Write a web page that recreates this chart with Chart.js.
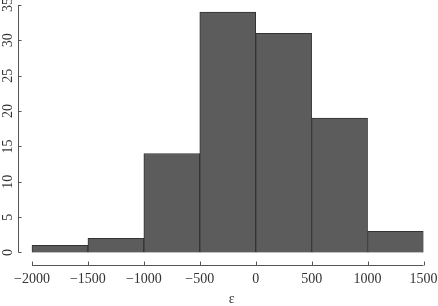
<!DOCTYPE html>
<html><head><meta charset="utf-8">
<script src="https://cdn.jsdelivr.net/npm/chart.js@4/dist/chart.umd.min.js"></script>
<style>html,body{margin:0;padding:0;background:#fff}#wrap{width:438px;height:306px;position:relative}</style>
</head><body><div id="wrap"><canvas id="c"></canvas></div>
<script>
const binEdges = [-2000, -1500, -1000, -500, 0, 500, 1000, 1500];
const counts = [1, 2, 14, 34, 31, 19, 3];
const xTicks = [-2000, -1500, -1000, -500, 0, 500, 1000, 1500];
const yTicks = [0, 5, 10, 15, 20, 25, 30, 35];
const xLabel = 'ε';

const points = counts.map((c, i) => ({ x: (binEdges[i] + binEdges[i + 1]) / 2, y: c }));
const FONT = "'Liberation Serif', 'DejaVu Serif', serif";
const fmt = v => (v < 0 ? '\u2212' + Math.abs(v) : String(v));

const rAxes = {
  id: 'rAxes',
  afterDraw(chart) {
    const { ctx, chartArea, scales: { x, y } } = chart;
    ctx.save();
    ctx.strokeStyle = '#555';
    ctx.lineWidth = 1;
    const ax = Math.round(chartArea.bottom) - 0.5;
    const ay = Math.round(chartArea.left) - 0.5;
    ctx.beginPath();
    ctx.moveTo(x.getPixelForValue(xTicks[0]), ax);
    ctx.lineTo(x.getPixelForValue(xTicks[xTicks.length - 1]), ax);
    xTicks.forEach(v => { const px = Math.round(x.getPixelForValue(v)) + 0.5; ctx.moveTo(px, ax); ctx.lineTo(px, ax - 4); });
    ctx.moveTo(ay, y.getPixelForValue(yTicks[0]));
    ctx.lineTo(ay, y.getPixelForValue(yTicks[yTicks.length - 1]));
    yTicks.forEach(v => { const py = Math.round(y.getPixelForValue(v)) + 0.5; ctx.moveTo(ay, py); ctx.lineTo(ay + 3, py); });
    ctx.stroke();
    ctx.fillStyle = '#333';
    ctx.font = '14px ' + FONT;
    ctx.textAlign = 'center';
    ctx.textBaseline = 'middle';
    const cx = (x.getPixelForValue(xTicks[0]) + x.getPixelForValue(xTicks[xTicks.length - 1])) / 2 + 4;
    ctx.fillText(xLabel, cx, 299);
    ctx.restore();
  }
};

new Chart(document.getElementById('c'), {
  type: 'bar',
  data: {
    datasets: [{
      data: points,
      backgroundColor: '#5c5c5c',
      borderColor: '#333333',
      borderWidth: 1,
      borderSkipped: 'start',
      barPercentage: 1,
      categoryPercentage: 1
    }]
  },
  options: {
    responsive: true,
    maintainAspectRatio: false,
    animation: false,
    events: [],
    layout: { padding: { top: 5, right: 14.5, left: 0, bottom: 0 } },
    plugins: { legend: { display: false }, tooltip: { enabled: false } },
    scales: {
      x: {
        type: 'linear',
        offset: false,
        min: -2116,
        max: 1500,
        grid: { display: false, drawTicks: false, offset: false },
        border: { display: false },
        afterBuildTicks: s => { s.ticks = xTicks.map(v => ({ value: v })); },
        afterFit: s => { s.height = 40; s.paddingLeft = 0; s.paddingRight = 0; },
        ticks: {
          autoSkip: false,
          maxRotation: 0,
          minRotation: 0,
          padding: 5,
          color: '#333',
          font: { family: FONT, size: 14 },
          callback: v => fmt(v)
        }
      },
      y: {
        type: 'linear',
        min: -1.91,
        max: 35,
        grid: { display: false, drawTicks: false },
        border: { display: false },
        afterBuildTicks: s => { s.ticks = yTicks.map(v => ({ value: v })); },
        afterFit: s => { s.width = 19; s.paddingTop = 0; s.paddingBottom = 0; },
        ticks: {
          autoSkip: false,
          minRotation: 90,
          maxRotation: 90,
          crossAlign: 'center',
          padding: 4,
          color: '#333',
          font: { family: FONT, size: 14 },
          callback: v => fmt(v)
        }
      }
    }
  },
  plugins: [rAxes]
});
</script>
</body></html>
